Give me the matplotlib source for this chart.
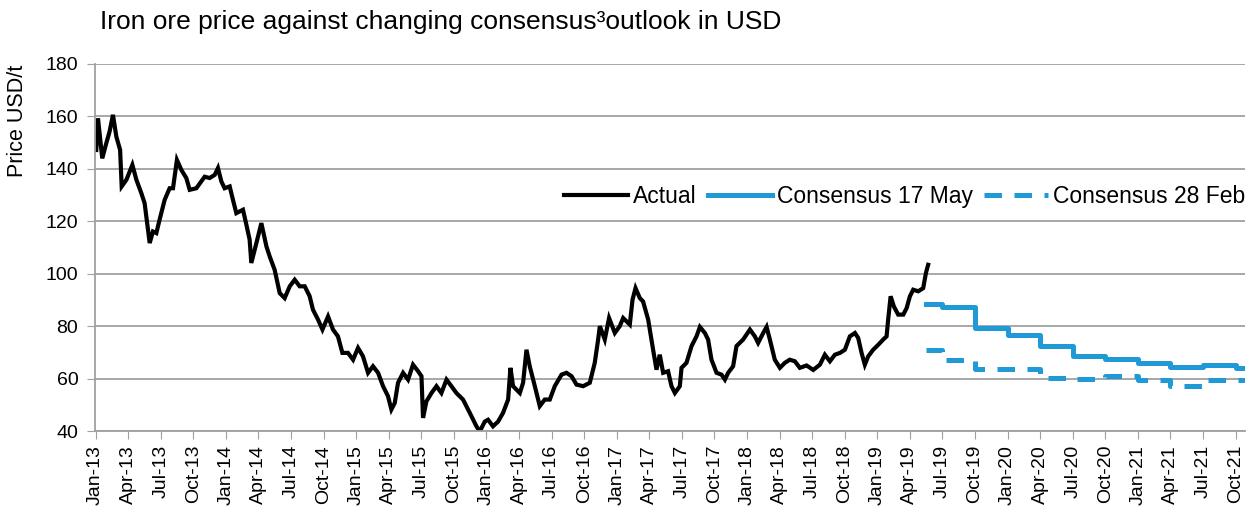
import matplotlib
matplotlib.use('Agg')
import matplotlib.pyplot as plt
import numpy as np

plt.rcParams['font.family'] = ['Liberation Sans', 'DejaVu Sans']

# Actual iron ore price (USD/t), time in decimal years
actual_t = [
    2013.005, 2013.018, 2013.051, 2013.082, 2013.107, 2013.133, 2013.159, 2013.188,
    2013.200, 2013.236, 2013.282, 2013.313, 2013.351, 2013.376, 2013.415, 2013.440,
    2013.466, 2013.491, 2013.530, 2013.568, 2013.594, 2013.624, 2013.658, 2013.696,
    2013.722, 2013.773, 2013.837, 2013.875, 2013.914, 2013.939, 2013.965, 2013.990,
    2014.029, 2014.054, 2014.080, 2014.131, 2014.157, 2014.182, 2014.195, 2014.234,
    2014.272, 2014.311, 2014.336, 2014.374, 2014.413, 2014.451, 2014.490, 2014.528,
    2014.566, 2014.605, 2014.643, 2014.668, 2014.707, 2014.741, 2014.784, 2014.822,
    2014.860, 2014.894, 2014.937, 2014.976, 2015.014, 2015.052, 2015.091, 2015.129,
    2015.168, 2015.206, 2015.244, 2015.270, 2015.296, 2015.321, 2015.360, 2015.398,
    2015.436, 2015.475, 2015.501, 2015.513, 2015.539, 2015.578, 2015.616, 2015.654,
    2015.693, 2015.731, 2015.769, 2015.820, 2015.872, 2015.923, 2015.948, 2015.987,
    2016.012, 2016.050, 2016.089, 2016.127, 2016.166, 2016.184, 2016.204, 2016.256,
    2016.281, 2016.307, 2016.332, 2016.371, 2016.409, 2016.447, 2016.486, 2016.524,
    2016.576, 2016.614, 2016.653, 2016.691, 2016.742, 2016.793, 2016.831, 2016.857,
    2016.870, 2016.908, 2016.941, 2016.985, 2017.023, 2017.049, 2017.100, 2017.121,
    2017.144, 2017.177, 2017.202, 2017.241, 2017.279, 2017.305, 2017.330, 2017.356,
    2017.394, 2017.420, 2017.446, 2017.484, 2017.497, 2017.535, 2017.574, 2017.612,
    2017.638, 2017.676, 2017.701, 2017.727, 2017.766, 2017.804, 2017.830, 2017.855,
    2017.893, 2017.919, 2017.970, 2018.022, 2018.060, 2018.085, 2018.124, 2018.150,
    2018.175, 2018.213, 2018.252, 2018.290, 2018.328, 2018.367, 2018.405, 2018.457,
    2018.508, 2018.559, 2018.597, 2018.636, 2018.674, 2018.713, 2018.751, 2018.789,
    2018.828, 2018.853, 2018.879, 2018.904, 2018.930, 2018.968, 2019.007, 2019.045,
    2019.071, 2019.083, 2019.102, 2019.127, 2019.160, 2019.199, 2019.225, 2019.250,
    2019.275, 2019.314, 2019.352, 2019.373, 2019.390,
]
actual_price = [
    147.2, 159.3, 144.0, 149.8, 154.2, 160.6, 152.3, 147.2,
    133.3, 135.8, 141.5, 135.8, 130.7, 126.9, 111.7, 116.1,
    115.5, 120.6, 128.2, 132.6, 132.6, 143.4, 139.6, 136.5,
    132.0, 132.6, 137.0, 136.5, 137.7, 140.3, 135.2, 132.6,
    133.3, 128.2, 123.1, 124.4, 118.7, 113.0, 104.1, 111.7,
    119.3, 110.4, 106.6, 101.5, 92.6, 90.7, 95.2, 97.7,
    95.2, 95.2, 91.4, 86.3, 82.5, 78.7, 83.7, 78.7,
    76.1, 69.8, 69.8, 67.2, 71.7, 68.5, 62.2, 64.7,
    62.2, 57.1, 53.3, 48.2, 50.7, 58.4, 62.2, 59.6,
    65.3, 62.8, 60.9, 45.0, 51.3, 54.5, 57.1, 54.5,
    59.6, 57.1, 54.5, 52.0, 46.9, 41.8, 39.8, 43.6,
    44.3, 41.8, 43.6, 46.9, 52.0, 64.1, 57.1, 54.5,
    58.4, 71.0, 64.7, 57.1, 49.5, 52.0, 52.0, 57.1,
    61.5, 62.2, 60.9, 57.7, 57.1, 58.4, 66.0, 74.9,
    80.0, 74.9, 83.1, 77.4, 80.0, 83.1, 80.6, 90.1,
    94.5, 90.7, 89.4, 82.5, 71.0, 63.4, 69.1, 62.2,
    62.8, 57.1, 54.5, 57.1, 64.1, 66.0, 72.4, 76.1,
    79.7, 77.4, 74.9, 67.2, 62.2, 61.5, 59.6, 62.2,
    64.7, 72.4, 74.9, 78.7, 76.1, 73.6, 77.4, 79.7,
    74.9, 67.2, 64.1, 66.0, 67.2, 66.6, 64.1, 65.0,
    63.3, 65.3, 69.1, 66.6, 69.1, 69.8, 71.0, 76.1,
    77.4, 75.5, 69.8, 65.3, 68.5, 71.0, 72.9, 74.9,
    76.1, 82.5, 91.4, 87.5, 84.4, 84.4, 86.9, 91.4,
    93.9, 93.3, 94.5, 100.3, 103.4,
]

# Consensus outlooks, quarterly steps (last point = end of axis)
cons_t = [2019.375, 2019.5, 2019.75, 2020.0, 2020.25, 2020.5, 2020.75,
          2021.0, 2021.25, 2021.5, 2021.75, 2021.822]
cons_may = [88.4, 87.3, 79.4, 76.8, 72.4, 68.5, 67.6, 66.0, 64.4, 65.0, 64.1, 64.1]
cons_feb = [71.0, 67.2, 63.6, 63.6, 60.2, 60.0, 60.9, 59.6, 57.1, 59.4, 59.3, 59.3]

# quarterly tick labels
months = ['Jan', 'Apr', 'Jul', 'Oct']
tick_pos = np.arange(2013, 2021.76, 0.25)
tick_labels = [f'{months[i % 4]}-{13 + i // 4}' for i in range(len(tick_pos))]

blue = '#1F9AD6'
grey = '#A0A0A0'

fig = plt.figure(figsize=(12.48, 5.16), dpi=100)
ax = fig.add_axes([0.0761, 0.1647, 0.9215, 0.7113])

ax.plot(actual_t, actual_price, color='black', lw=3.0, label='Actual',
        solid_joinstyle='miter')
ax.plot(cons_t, cons_may, color=blue, lw=3.6, drawstyle='steps-post',
        label='Consensus 17 May')
ax.plot(cons_t, cons_feb, color=blue, lw=3.6, drawstyle='steps-post',
        dashes=(3.5, 2.5), dash_capstyle='butt', label='Consensus 28 Feb')

ax.set_xlim(2012.995, 2021.822)
ax.set_ylim(40, 180)
ax.set_yticks(np.arange(40, 181, 20))
ax.set_xticks(tick_pos)
ax.set_xticklabels(tick_labels, rotation=90)
ax.tick_params(axis='x', labelsize=14, length=6, color=grey, pad=4)
ax.tick_params(axis='y', labelsize=14, length=6, color=grey, pad=6)

ax.grid(True, axis='y', color=grey, lw=1.3)
ax.set_axisbelow(True)
for s in ['top', 'right']:
    ax.spines[s].set_visible(False)
for s in ['left', 'bottom']:
    ax.spines[s].set_color(grey)
    ax.spines[s].set_linewidth(1.3)

ax.legend(loc='center right', bbox_to_anchor=(1.0, 0.638), ncol=3,
          frameon=False, fontsize=16.5, handlelength=2.8, handletextpad=0.2,
          columnspacing=0.5, borderpad=0, borderaxespad=0)

fig.text(18 / 1248, 1 - 121 / 516, 'Price USD/t', rotation=90,
         ha='center', va='center', fontsize=15.5)
fig.text(100 / 1248, 1 - 22 / 516, 'Iron ore price against changing consensus³outlook in USD',
         ha='left', va='center', fontsize=19)

fig.savefig('out.png', dpi=100, facecolor='white')
